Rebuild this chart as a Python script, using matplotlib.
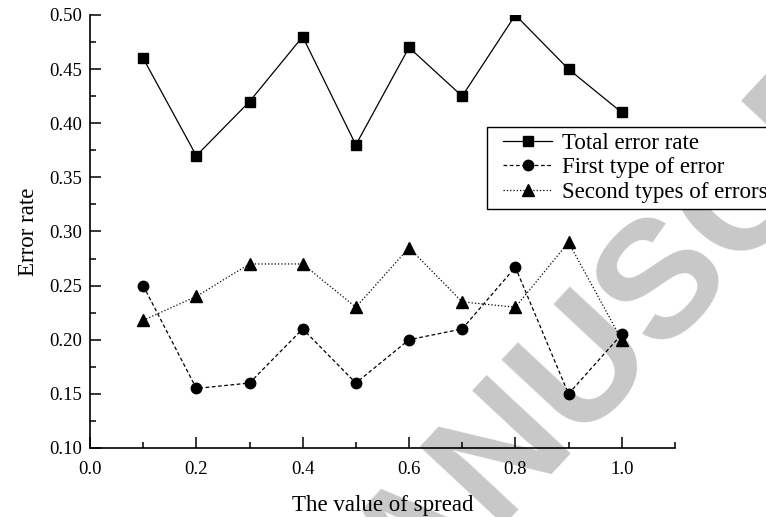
import matplotlib
matplotlib.use("Agg")
import matplotlib.pyplot as plt
from matplotlib.ticker import MultipleLocator, FormatStrFormatter
from matplotlib.lines import Line2D
from matplotlib.legend_handler import HandlerLine2D

spread = [0.1, 0.2, 0.3, 0.4, 0.5, 0.6, 0.7, 0.8, 0.9, 1.0]
total_error = [0.46, 0.37, 0.42, 0.48, 0.38, 0.47, 0.425, 0.50, 0.45, 0.41]
first_error = [0.25, 0.155, 0.16, 0.21, 0.16, 0.20, 0.21, 0.267, 0.15, 0.205]
second_error = [0.218, 0.24, 0.27, 0.27, 0.23, 0.285, 0.235, 0.23, 0.29, 0.20]
labels = ["Total error rate", "First type of error", "Second types of errors"]

plt.rcParams['font.family'] = ['Liberation Serif', 'DejaVu Serif']

fig = plt.figure(figsize=(7.66, 5.17), dpi=100)
ax = fig.add_axes([0.1175, 0.1335, 0.7635, 0.8375])

fig.text(0.868, 0.462, "MANUSCRIPT", fontsize=120, color="#c8c8c8", rotation=47,
         ha="center", va="center", family="Liberation Sans", fontweight="bold", zorder=0)
ax.set_zorder(1)
ax.patch.set_alpha(0)

ax.plot(spread, total_error, 'k-', marker='s', markersize=7.2, lw=0.9, label=labels[0])
ax.plot(spread, first_error, 'k--', marker='o', markersize=7.5, lw=0.9, dashes=(3, 2), label=labels[1])
ax.plot(spread, second_error, 'k:', marker='^', markersize=9, lw=0.9, label=labels[2])

ax.set_xlim(0.0, 1.1)
ax.set_ylim(0.10, 0.50)
ax.xaxis.set_major_locator(MultipleLocator(0.2))
ax.xaxis.set_minor_locator(MultipleLocator(0.1))
ax.yaxis.set_major_locator(MultipleLocator(0.05))
ax.yaxis.set_minor_locator(MultipleLocator(0.025))
ax.xaxis.set_major_formatter(FormatStrFormatter('%.1f'))
ax.yaxis.set_major_formatter(FormatStrFormatter('%.2f'))
ax.tick_params(which='major', direction='in', length=8, width=1.1, labelsize=13.5, pad=6)
ax.tick_params(which='minor', direction='in', length=4, width=1.1)
ax.tick_params(axis='x', which='major', pad=9.5)
for s in ['top', 'right']:
    ax.spines[s].set_visible(False)
for s in ['left', 'bottom']:
    ax.spines[s].set_linewidth(1.2)

ax.set_xlabel("The value of spread", fontsize=16.5, labelpad=12)
ax.set_ylabel("Error rate", fontsize=16.5, labelpad=7)

leg = ax.legend(loc='upper left', bbox_to_anchor=(0.679, 0.741), fontsize=16.5, frameon=True,
                fancybox=False, edgecolor='black', framealpha=1, handlelength=2.6,
                handletextpad=0.4, borderpad=0.25, labelspacing=0.15, borderaxespad=0,
                handler_map={Line2D: HandlerLine2D(xpad=0.45)})
leg.get_frame().set_linewidth(1.0)

fig.savefig("out.png", dpi=100)
